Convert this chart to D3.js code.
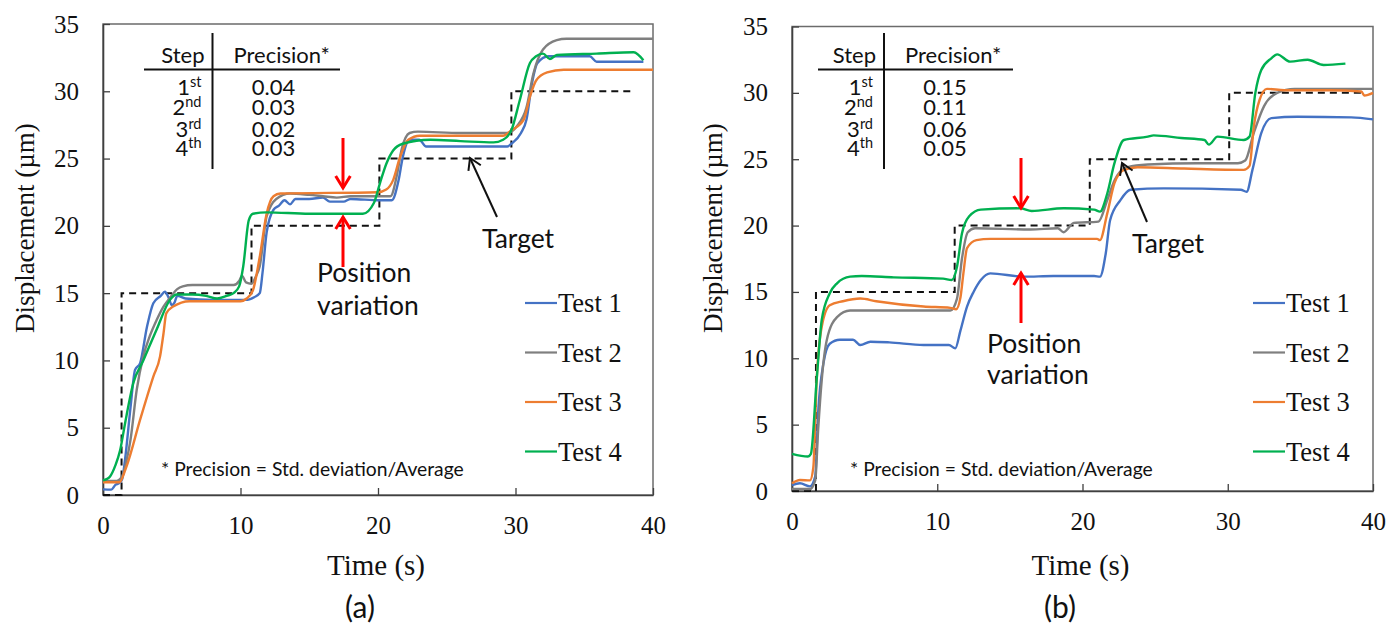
<!DOCTYPE html>
<html>
<head>
<meta charset="utf-8">
<script src="https://cdn.jsdelivr.net/npm/d3@7"></script>
<style>
  body { margin: 0; background: #fff; }
  .serif { font-family: "Liberation Serif", "Times New Roman", serif; }
  .sans { font-family: Lato, "Open Sans", sans-serif; }
</style>
</head>
<body>
<svg id="chart" width="1389" height="630"></svg>
<script>
// ---- data (time in s, displacement in um) ----
var xTicks = [0, 10, 20, 30, 40];
var yTicks = [0, 5, 10, 15, 20, 25, 30, 35];
var seriesNames = ["Test 1", "Test 2", "Test 3", "Test 4"];
var seriesColors = ["#4472C4", "#7F7F7F", "#ED7D31", "#00B050"];

var stepNums = ["1", "2", "3", "4"];
var stepSuffix = ["st", "nd", "rd", "th"];
var precisionA = ["0.04", "0.03", "0.02", "0.03"];
var precisionB = ["0.15", "0.11", "0.06", "0.05"];

// panel (a)
var targetA = [[0, 0], [1.35, 0], [1.35, 15], [10.8, 15], [10.8, 20], [20.1, 20], [20.1, 25], [29.7, 25], [29.7, 30], [38.4, 30]];
var a_test1 = [[0, 0.42], [0.6, 0.4], [0.9, 0.75], [1.2, 0.9], [1.4, 1.2], [1.6, 2.6], [2.0, 6.5], [2.33, 9.3], [2.7, 9.8], [3.2, 12.5], [3.66, 14.25], [4.2, 14.8], [4.5, 15.1], [4.8, 14.6], [5.0, 14.1], [5.2, 14.3], [5.4, 14.8], [6, 14.6], [8, 14.5], [10.5, 14.5], [11.0, 14.7], [11.4, 15.0], [11.6, 16.5], [11.9, 19.5], [12.4, 21.2], [12.8, 21.5], [13.2, 21.9], [13.6, 21.6], [14.0, 22.0], [15, 22.0], [16, 22.1], [16.5, 21.8], [17.5, 21.8], [18, 22.0], [20.1, 21.9], [21.0, 21.9], [21.5, 23.4], [21.8, 25.1], [22.3, 26.4], [23.0, 26.4], [23.5, 25.9], [26, 25.9], [29.4, 25.9], [29.7, 26.1], [30.4, 26.9], [30.8, 27.9], [31.2, 30.6], [31.6, 32.1], [32.4, 32.6], [35.4, 32.6], [35.9, 32.2], [39.3, 32.2]];
var a_test2 = [[0, 1.05], [1.0, 1.05], [1.4, 1.4], [1.7, 2.5], [2.0, 4.1], [2.45, 7.8], [2.93, 10.3], [3.4, 11.8], [3.9, 13.0], [4.4, 14.0], [4.9, 14.7], [5.4, 15.3], [5.8, 15.5], [6.5, 15.6], [9.5, 15.6], [9.9, 15.9], [10.1, 16.3], [10.4, 15.8], [10.8, 15.7], [11.1, 16.2], [11.4, 17.0], [11.9, 20.7], [12.6, 22.0], [13.6, 22.4], [15, 22.3], [16, 22.2], [17, 22.1], [18, 22.2], [20.1, 22.2], [20.9, 22.2], [21.4, 23.9], [21.7, 25.6], [22.3, 26.9], [22.9, 27.0], [26, 26.9], [29.4, 26.9], [30.1, 27.4], [30.8, 28.8], [31.3, 31.3], [32.0, 33.1], [33.0, 33.8], [33.7, 33.9], [40, 33.9]];
var a_test3 = [[0, 0.95], [1.2, 0.95], [1.7, 2.1], [2.7, 5.6], [3.66, 8.8], [4.15, 10.3], [4.4, 12.0], [4.6, 13.5], [5.1, 14.0], [6.3, 14.4], [10.0, 14.4], [10.45, 14.6], [10.9, 15.2], [11.4, 17.7], [11.9, 20.9], [12.4, 22.2], [12.9, 22.4], [20.0, 22.5], [20.6, 22.7], [21.1, 23.4], [21.6, 25.1], [22.2, 26.4], [23.05, 26.7], [29.1, 26.7], [29.7, 27.1], [30.6, 27.9], [31.05, 29.6], [31.5, 30.8], [32.3, 31.4], [33.5, 31.6], [40, 31.6]];
var a_test4 = [[0, 1.1], [0.3, 1.2], [0.5, 1.36], [0.9, 2.2], [1.24, 3.3], [1.6, 5.3], [2.2, 8.3], [2.93, 10.0], [3.9, 12.3], [4.87, 14.5], [5.36, 14.9], [6.5, 14.9], [7.5, 14.8], [8.3, 14.6], [9.0, 14.8], [9.5, 15.0], [9.9, 15.5], [10.2, 17.0], [10.6, 20.4], [10.9, 20.9], [11.9, 21.0], [15, 20.9], [18.9, 20.9], [19.7, 21.7], [20.15, 23.2], [20.6, 24.6], [21.1, 25.6], [21.8, 26.1], [23.8, 26.4], [26, 26.3], [28.4, 26.2], [29.1, 26.4], [29.7, 27.1], [30.3, 29.3], [31.05, 32.1], [31.5, 32.6], [32.0, 32.8], [32.5, 32.4], [33.0, 32.7], [35.9, 32.8], [38.6, 32.9], [39.3, 32.3]];

// panel (b)
var targetB = [[0, 0], [1.65, 0], [1.65, 15], [11.2, 15], [11.2, 20], [20.5, 20], [20.5, 25], [30.1, 25], [30.1, 30], [39.5, 30]];
var b_test1 = [[0, 0.45], [0.55, 0.58], [1.24, 0.35], [1.6, 1.1], [1.8, 5.9], [2.16, 9.6], [2.6, 11.1], [3.3, 11.4], [4.2, 11.4], [4.7, 11.0], [5.4, 11.25], [6.7, 11.2], [9.06, 11.0], [10.8, 11.0], [11.24, 10.75], [11.6, 12.1], [12.05, 13.9], [12.5, 15.0], [13.0, 15.9], [13.65, 16.4], [15.95, 16.15], [18, 16.2], [20.8, 16.2], [21.2, 16.15], [21.6, 17.9], [21.9, 20.4], [22.6, 21.9], [23.3, 22.7], [25.6, 22.8], [30.9, 22.7], [31.3, 22.55], [31.7, 24.2], [32.3, 26.95], [33.0, 28.1], [34.8, 28.2], [38.5, 28.15], [40, 28.0]];
var b_test2 = [[0, 0.15], [1.24, 0.15], [1.6, 0.8], [1.8, 4.6], [2.05, 8.4], [2.4, 11.4], [3.1, 13.1], [4.0, 13.6], [7, 13.6], [10.9, 13.6], [11.36, 14.5], [11.7, 17.5], [12.1, 19.5], [12.6, 19.8], [16.4, 19.7], [18.3, 19.8], [18.7, 19.5], [19.4, 20.2], [21.1, 20.3], [21.7, 21.9], [22.2, 23.4], [23.1, 24.4], [24.5, 24.6], [27.9, 24.7], [30.7, 24.7], [31.2, 24.9], [31.8, 27.0], [32.5, 29.0], [33.4, 30.0], [34.6, 30.3], [40, 30.3]];
var b_test3 = [[0, 0.58], [0.55, 0.83], [1.24, 0.8], [1.47, 1.8], [1.7, 8.4], [2.05, 12.4], [2.6, 14.0], [3.5, 14.3], [4.7, 14.5], [5.8, 14.3], [9.06, 13.9], [10.9, 13.8], [11.3, 13.7], [11.6, 14.6], [11.8, 16.4], [12.05, 18.3], [12.7, 18.9], [13.65, 19.0], [17, 19.0], [21.0, 19.0], [21.2, 18.9], [21.7, 20.9], [22.2, 23.2], [22.85, 24.2], [23.8, 24.4], [27, 24.3], [31.1, 24.2], [31.5, 24.5], [31.8, 27.5], [32.2, 29.5], [32.7, 30.3], [33.9, 30.2], [37, 30.2], [39.2, 30.1], [39.4, 29.8], [40, 30.0]];
var b_test4 = [[0, 2.8], [1.1, 2.6], [1.3, 2.8], [1.7, 8.4], [2.05, 12.9], [2.6, 14.9], [3.1, 15.65], [4.0, 16.15], [4.8, 16.2], [7, 16.1], [10.4, 16.0], [11.0, 15.9], [11.36, 16.9], [11.7, 19.4], [12.2, 20.7], [13.0, 21.2], [15.7, 21.3], [16.5, 21.1], [18.7, 21.3], [20.8, 21.2], [21.2, 21.05], [21.7, 22.4], [22.2, 24.7], [22.85, 26.45], [24.5, 26.7], [24.9, 26.8], [26.8, 26.6], [28.4, 26.45], [28.7, 26.1], [29.3, 26.7], [31.1, 26.45], [31.5, 26.7], [31.9, 30.0], [32.3, 31.7], [33.0, 32.6], [33.4, 32.9], [34.3, 32.35], [35.5, 32.5], [36.6, 32.1], [38.1, 32.2]];

var svg = d3.select("#chart");

// open chevron arrow, tip at (x2,y2)
function arrow(g, x1, y1, x2, y2, color, w, head) {
  var ang = Math.atan2(y2 - y1, x2 - x1);
  var a1 = ang + Math.PI - 0.55, a2 = ang + Math.PI + 0.55;
  g.append("line").attr("x1", x1).attr("y1", y1).attr("x2", x2).attr("y2", y2)
    .attr("stroke", color).attr("stroke-width", w);
  g.append("path")
    .attr("d", "M" + (x2 + head * Math.cos(a1)) + "," + (y2 + head * Math.sin(a1)) +
      "L" + x2 + "," + y2 + "L" + (x2 + head * Math.cos(a2)) + "," + (y2 + head * Math.sin(a2)))
    .attr("fill", "none").attr("stroke", color).attr("stroke-width", w).attr("stroke-linejoin", "miter");
}

function drawPanel(p) {
  var x = d3.scaleLinear().domain([0, 40]).range([p.left, p.right]);
  var y = d3.scaleLinear().domain([0, 35]).range([p.bottom, p.top]);
  var g = svg.append("g");

  // plot frame
  g.append("rect").attr("x", p.left).attr("y", p.top)
    .attr("width", p.right - p.left).attr("height", p.bottom - p.top)
    .attr("fill", "none").attr("stroke", "#6b6b6b").attr("stroke-width", 1.5);

  var ya = g.append("g").attr("transform", "translate(" + p.left + ",0)")
    .call(d3.axisLeft(y).tickValues(yTicks).tickSizeInner(-7).tickSizeOuter(0).tickPadding(24));
  var xa = g.append("g").attr("transform", "translate(0," + p.bottom + ")")
    .call(d3.axisBottom(x).tickValues(xTicks).tickSizeInner(-7).tickSizeOuter(0).tickPadding(21));
  [ya, xa].forEach(function(a) {
    a.select(".domain").attr("stroke", "#404040").attr("stroke-width", 1.6);
    a.selectAll(".tick line").attr("stroke", "#404040").attr("stroke-width", 1.3);
    a.selectAll("text").attr("font-size", 25).attr("fill", "#111")
      .attr("font-family", "'Liberation Serif', 'Times New Roman', serif");
  });

  // target step
  g.append("path").datum(p.target)
    .attr("d", d3.line().x(function(d) { return x(d[0]); }).y(function(d) { return y(d[1]); }))
    .attr("fill", "none").attr("stroke", "#111").attr("stroke-width", 2).attr("stroke-dasharray", "7,5");

  // test curves
  var line = d3.line().curve(d3.curveMonotoneX)
    .x(function(d) { return x(d[0]); }).y(function(d) { return y(d[1]); });
  p.series.forEach(function(s, i) {
    g.append("path").datum(s).attr("d", line)
      .attr("fill", "none").attr("stroke", seriesColors[i]).attr("stroke-width", 2.4)
      .attr("stroke-linejoin", "round");
  });

  // legend
  seriesNames.forEach(function(name, i) {
    var by = p.legendY + i * 49.5;
    g.append("line").attr("x1", p.legendX).attr("x2", p.legendX + 32)
      .attr("y1", by - 9).attr("y2", by - 9)
      .attr("stroke", seriesColors[i]).attr("stroke-width", 2.2);
    g.append("text").attr("class", "serif").attr("x", p.legendX + 33).attr("y", by)
      .attr("font-size", 26.5).attr("fill", "#111").text(name);
  });

  // precision table
  var t = g.append("g").attr("class", "sans").attr("fill", "#111");
  t.append("line").attr("x1", p.tabV).attr("x2", p.tabV).attr("y1", 33).attr("y2", 169)
    .attr("stroke", "#111").attr("stroke-width", 2);
  t.append("line").attr("x1", p.tabH0).attr("x2", p.tabH1).attr("y1", 69.5).attr("y2", 69.5)
    .attr("stroke", "#111").attr("stroke-width", 2);
  t.append("text").attr("x", p.tabV - 8).attr("y", 63).attr("text-anchor", "end")
    .attr("font-size", 22).text("Step");
  t.append("text").attr("x", p.tabV + 21).attr("y", 63)
    .attr("font-size", 22).text("Precision*");
  var rowY = [95, 115, 137, 156];
  stepNums.forEach(function(n, i) {
    var tx = t.append("text").attr("x", p.tabV - 11).attr("y", rowY[i])
      .attr("text-anchor", "end").attr("font-size", 22);
    tx.append("tspan").text(n);
    tx.append("tspan").attr("dy", -8).attr("font-size", 14.5).text(stepSuffix[i]);
    t.append("text").attr("x", p.tabV + 61).attr("y", rowY[i]).attr("text-anchor", "middle")
      .attr("font-size", 22).text(p.precision[i]);
  });

  // footnote
  g.append("text").attr("class", "sans").attr("x", p.noteX).attr("y", 476)
    .attr("font-size", 19.3).attr("fill", "#111").text("* Precision = Std. deviation/Average");

  // annotations
  arrow(g, p.redX, p.redDown[0], p.redX, p.redDown[1], "#FF0000", 3, 14);
  arrow(g, p.redX, p.redUp[1], p.redX, p.redUp[0], "#FF0000", 3, 14);
  g.append("text").attr("class", "sans").attr("x", p.posX).attr("y", p.posY)
    .attr("font-size", 26.5).attr("fill", "#111").text("Position");
  g.append("text").attr("class", "sans").attr("x", p.posX).attr("y", p.posY + p.posGap)
    .attr("font-size", 26.5).attr("fill", "#111").text("variation");
  arrow(g, p.tgtArrow[0], p.tgtArrow[1], p.tgtArrow[2], p.tgtArrow[3], "#111", 2, 13);
  g.append("text").attr("class", "sans").attr("x", p.tgtX).attr("y", p.tgtY)
    .attr("font-size", 26.5).attr("fill", "#111").text("Target");

  // axis titles and panel label
  g.append("text").attr("class", "serif").attr("x", (p.left + p.right) / 2 - 2).attr("y", 575)
    .attr("text-anchor", "middle").attr("font-size", 29).attr("fill", "#111").text("Time (s)");
  g.append("text").attr("class", "serif")
    .attr("transform", "translate(" + p.yTitleX + ",228) rotate(-90)")
    .attr("text-anchor", "middle").attr("font-size", 27).attr("fill", "#111").text("Displacement (\u00b5m)");
  g.append("text").attr("class", "sans").attr("x", p.labelX).attr("y", 618)
    .attr("text-anchor", "middle").attr("font-size", 30).attr("fill", "#111").text(p.label);
}

drawPanel({
  left: 103, right: 653, top: 24, bottom: 495,
  target: targetA, series: [a_test1, a_test2, a_test3, a_test4],
  legendX: 525, legendY: 312,
  tabV: 212.5, tabH0: 144, tabH1: 340, precision: precisionA,
  noteX: 161,
  redX: 343, redDown: [138, 188], redUp: [217, 267],
  posX: 317, posY: 282, posGap: 33,
  tgtArrow: [497, 217, 470, 158], tgtX: 482, tgtY: 248,
  yTitleX: 34, labelX: 360, label: "(a)"
});

drawPanel({
  left: 792, right: 1373, top: 26.5, bottom: 491,
  target: targetB, series: [b_test1, b_test2, b_test3, b_test4],
  legendX: 1253, legendY: 312,
  tabV: 884, tabH0: 818, tabH1: 1013, precision: precisionB,
  noteX: 850,
  redX: 1021, redDown: [158, 208], redUp: [273, 323],
  posX: 987, posY: 353, posGap: 31,
  tgtArrow: [1147, 222, 1122, 163], tgtX: 1132, tgtY: 253,
  yTitleX: 722, labelX: 1060, label: "(b)"
});
</script>
</body>
</html>
